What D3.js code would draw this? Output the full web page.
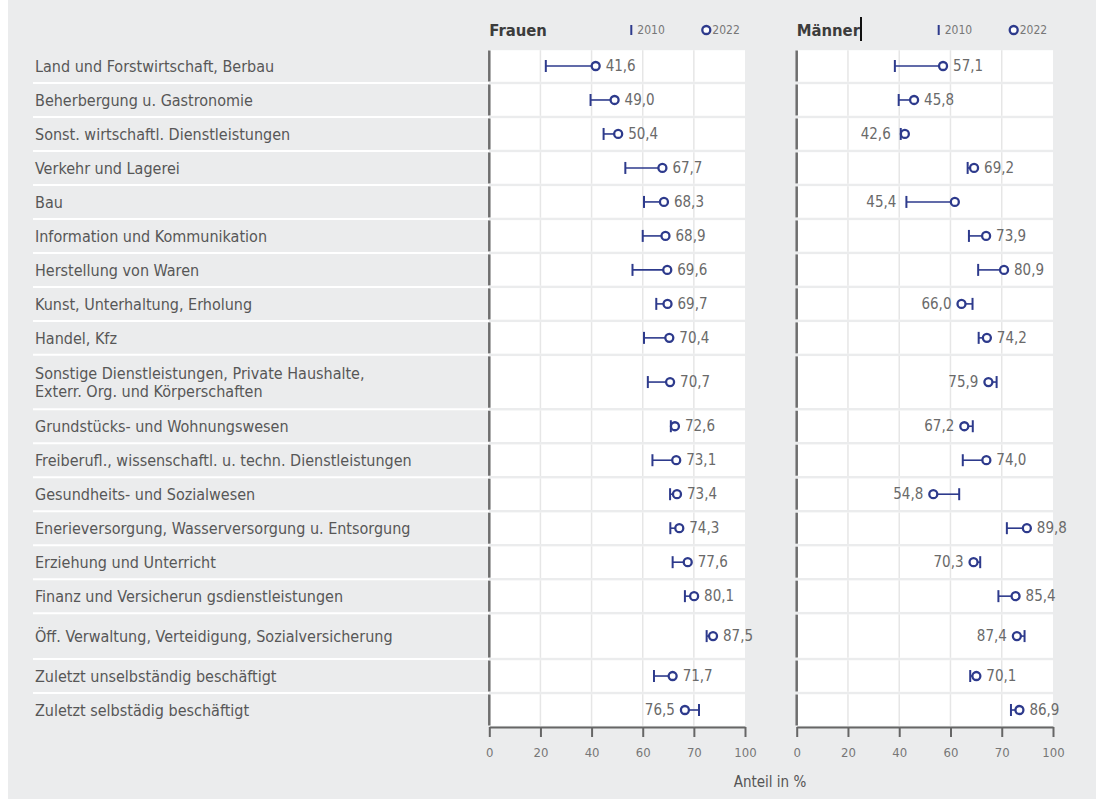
<!DOCTYPE html>
<html><head><meta charset="utf-8">
<script src="https://cdn.jsdelivr.net/npm/d3@7"></script>
<style>
html,body{margin:0;padding:0;background:#ebeced;overflow:hidden;}
svg{display:block;}
</style></head>
<body>
<svg id="chart" width="1096" height="799"></svg>
<script>
// ---------- data ----------
const categories = [
  "Land und Forstwirtschaft, Berbau",
  "Beherbergung u. Gastronomie",
  "Sonst. wirtschaftl. Dienstleistungen",
  "Verkehr und Lagerei",
  "Bau",
  "Information und Kommunikation",
  "Herstellung von Waren",
  "Kunst, Unterhaltung, Erholung",
  "Handel, Kfz",
  "Sonstige Dienstleistungen, Private Haushalte,\nExterr. Org. und Körperschaften",
  "Grundstücks- und Wohnungswesen",
  "Freiberufl., wissenschaftl. u. techn. Dienstleistungen",
  "Gesundheits- und Sozialwesen",
  "Enerieversorgung, Wasserversorgung u. Entsorgung",
  "Erziehung und Unterricht",
  "Finanz und Versicherun gsdienstleistungen",
  "Öff. Verwaltung, Verteidigung, Sozialversicherung",
  "Zuletzt unselbständig beschäftigt",
  "Zuletzt selbstädig beschäftigt"
];
const frauen2010 = [22.1, 39.6, 44.7, 53.2, 60.5, 60.0, 56.0, 65.3, 60.5, 62.0, 71.0, 63.8, 70.7, 70.8, 71.7, 76.5, 85.0, 64.4, 82.0];
const frauen2022 = [41.6, 49.0, 50.4, 67.7, 68.3, 68.9, 69.6, 69.7, 70.4, 70.7, 72.6, 73.1, 73.4, 74.3, 77.6, 80.1, 87.5, 71.7, 76.5];
const frauenLabels = ["41,6","49,0","50,4","67,7","68,3","68,9","69,6","69,7","70,4","70,7","72,6","73,1","73,4","74,3","77,6","80,1","87,5","71,7","76,5"];
const maenner2010 = [38.3, 39.8, 40.6, 66.7, 42.8, 67.2, 70.8, 68.6, 71.0, 78.0, 68.7, 64.8, 63.4, 82.0, 71.6, 78.7, 88.9, 67.7, 83.6];
const maenner2022 = [57.1, 45.8, 42.2, 69.2, 61.7, 73.9, 80.9, 64.3, 74.2, 74.8, 65.4, 74.0, 53.3, 89.8, 69.0, 85.4, 85.9, 70.1, 86.9];
const maennerLabels = ["57,1","45,8","42,6","69,2","45,4","73,9","80,9","66,0","74,2","75,9","67,2","74,0","54,8","89,8","70,3","85,4","87,4","70,1","86,9"];
const tickValues = [0, 20, 40, 60, 80, 100];
const tickLabels = ["0", "20", "40", "60", "70", "100"];
const legendYears = ["2010", "2022"];
const panelTitles = ["Frauen", "Männer"];
const axisTitle = "Anteil in %";

// ---------- layout ----------
const FONT = "'Liberation Sans Narrow','DejaVu Sans Condensed','Roboto Condensed',sans-serif";
const BLUE = "#2d3a8c";
const rowWeight = categories.map((c, i) => c.includes("\n") ? 1.6 : (i === 16 ? 1.35 : 1));
const cum = [0];
rowWeight.forEach(w => cum.push(cum[cum.length - 1] + w));
const y = d3.scaleLinear().domain([0, cum[cum.length - 1]]).range([49, 727]);
const rows = categories.map((c, i) => ({ c, i, top: y(cum[i]), bot: y(cum[i + 1]), mid: (y(cum[i]) + y(cum[i + 1])) / 2 }));

const svg = d3.select("#chart");
svg.append("rect").attr("x", 0).attr("y", 0).attr("width", 1096).attr("height", 799).attr("fill", "#ebeced");
svg.append("rect").attr("x", 0).attr("y", 0).attr("width", 8).attr("height", 799).attr("fill", "#fff");

// category labels + white separators
const lab = svg.append("g");
rows.forEach((r, i) => {
  if (i > 0) lab.append("line").attr("x1", 33).attr("x2", 489).attr("y1", r.top).attr("y2", r.top)
    .attr("stroke", "#fff").attr("stroke-width", 2);
  const lines = r.c.split("\n");
  const t = lab.append("text").attr("x", 35).attr("y", r.mid - (lines.length - 1) * 9)
    .attr("font-family", FONT).attr("font-size", 16).attr("fill", "#575757")
    .attr("dominant-baseline", "central");
  lines.forEach((l, k) => t.append("tspan").attr("x", 35).attr("dy", k === 0 ? 0 : 18).text(l));
});

const panels = [
  { x0: 489.3, x1: 745, v10: frauen2010, v22: frauen2022, labels: frauenLabels, leftOverride: [] },
  { x0: 796.7, x1: 1053, v10: maenner2010, v22: maenner2022, labels: maennerLabels, leftOverride: [2, 4] }
];

panels.forEach((p, pi) => {
  const x = d3.scaleLinear().domain([0, 100]).range([p.x0, p.x1]);
  const g = svg.append("g");
  rows.forEach(r => {
    g.append("rect").attr("x", x(0)).attr("y", r.top + 1.2).attr("width", x(100) - x(0)).attr("height", r.bot - r.top - 2.4).attr("fill", "#fff");
    tickValues.filter(v => v > 0 && v < 100).forEach(v => {
      g.append("line").attr("x1", x(v)).attr("x2", x(v)).attr("y1", r.top + 1.2).attr("y2", r.bot - 1.2)
        .attr("stroke", "#e6e6e6").attr("stroke-width", 1.5);
    });
    g.append("line").attr("x1", x(0)).attr("x2", x(0)).attr("y1", r.top + 1.5).attr("y2", r.bot - 1.5)
      .attr("stroke", "#6e6e6e").attr("stroke-width", 2.5);
  });
  rows.forEach((r, i) => {
    const a = p.v10[i], b = p.v22[i];
    g.append("line").attr("x1", x(a)).attr("x2", x(b)).attr("y1", r.mid).attr("y2", r.mid)
      .attr("stroke", BLUE).attr("stroke-width", 1.6);
    g.append("line").attr("x1", x(a)).attr("x2", x(a)).attr("y1", r.mid - 6).attr("y2", r.mid + 6)
      .attr("stroke", BLUE).attr("stroke-width", 2);
    g.append("circle").attr("cx", x(b)).attr("cy", r.mid).attr("r", 4).attr("fill", "#fff")
      .attr("stroke", BLUE).attr("stroke-width", 2.3);
    const left = a > b || p.leftOverride.includes(i);
    const tx = left ? x(Math.min(a, b)) - 10 : x(Math.max(a, b)) + 10;
    g.append("text").attr("x", tx).attr("y", r.mid).attr("dominant-baseline", "central")
      .attr("text-anchor", left ? "end" : "start")
      .attr("font-family", FONT).attr("font-size", 15).attr("fill", "#6a6a6a").text(p.labels[i]);
  });
  const ax = g.append("g").attr("transform", "translate(0,727)")
    .call(d3.axisBottom(x).tickValues(tickValues).tickFormat((d, k) => tickLabels[k]).tickSize(10).tickSizeOuter(0).tickPadding(11));
  ax.select(".domain").attr("stroke", "#666").attr("stroke-width", 2);
  ax.selectAll(".tick line").attr("stroke", "#666").attr("stroke-width", 2);
  ax.selectAll(".tick text").attr("font-family", FONT).attr("font-size", 13).attr("fill", "#777");
  g.append("text").attr("x", p.x0).attr("y", 30).attr("dominant-baseline", "central")
    .attr("font-family", FONT).attr("font-size", 16.5).attr("font-weight", "bold").attr("fill", "#3c3c3c").text(panelTitles[pi]);
  g.append("line").attr("x1", p.x0 + 142).attr("x2", p.x0 + 142).attr("y1", 25).attr("y2", 35)
    .attr("stroke", BLUE).attr("stroke-width", 2);
  g.append("text").attr("x", p.x0 + 148).attr("y", 30).attr("dominant-baseline", "central")
    .attr("font-family", FONT).attr("font-size", 12).attr("fill", "#777").text(legendYears[0]);
  g.append("circle").attr("cx", p.x0 + 217).attr("cy", 30).attr("r", 4).attr("fill", "#fff")
    .attr("stroke", BLUE).attr("stroke-width", 2.3);
  g.append("text").attr("x", p.x0 + 223).attr("y", 30).attr("dominant-baseline", "central")
    .attr("font-family", FONT).attr("font-size", 12).attr("fill", "#777").text(legendYears[1]);
});
svg.append("line").attr("x1", 861).attr("x2", 861).attr("y1", 17).attr("y2", 41).attr("stroke", "#111").attr("stroke-width", 2);

svg.append("text").attr("x", 770).attr("y", 782).attr("text-anchor", "middle").attr("dominant-baseline", "central")
  .attr("font-family", FONT).attr("font-size", 15).attr("fill", "#555").text(axisTitle);
</script>
</body></html>
